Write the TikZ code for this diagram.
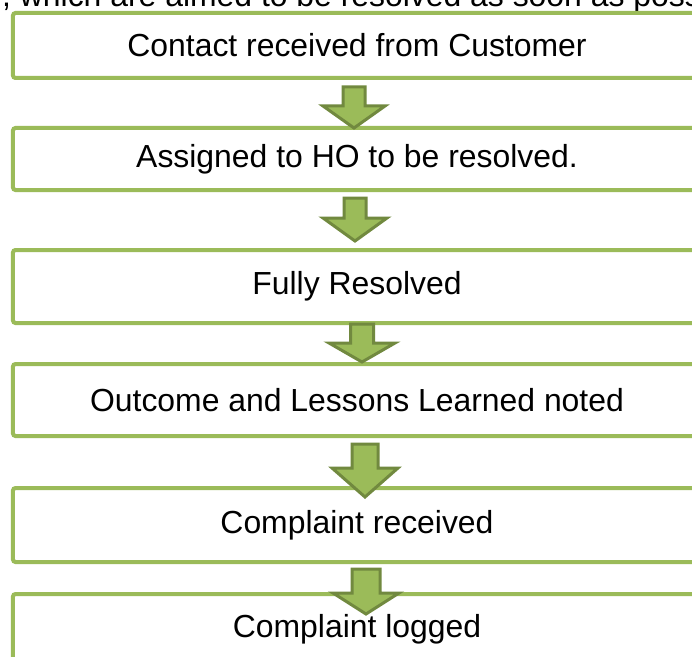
\documentclass[tikz,border=0pt]{standalone}
\usepackage{fontspec}
\setmainfont{Liberation Sans}
\definecolor{boxgreen}{HTML}{9BBB59}
\definecolor{arrowedge}{HTML}{71893F}
\tikzset{
  x=1bp, y=-1bp,
  flowbox/.style={draw=boxgreen, line width=4bp, rounded corners=2.5bp, fill=white,
    minimum width=688bp, inner sep=0pt, font=\fontsize{31.9bp}{38bp}\selectfont, text=black},
  pics/darrow/.style n args={4}{code={
    % #1 shaft half width, #2 head half width, #3 shaft length, #4 total length
    \path[fill=boxgreen, draw=arrowedge, line width=3bp, line join=miter]
      (-#1,0) -- (#1,0) -- (#1,#3) -- (#2,#3) -- (0,#4) -- (-#2,#3) -- (-#1,#3) -- cycle;
  }}
}
\begin{document}
\begin{tikzpicture}
\useasboundingbox (0,0) rectangle (692,657);
\clip (0,0) rectangle (692,657);
\fill[white] (0,0) rectangle (692,657);
\node[anchor=base west, inner sep=0pt, font=\fontsize{31.9bp}{38bp}\selectfont] (lead) at (2,7) {, which are aimed to be resolved as soon as poss};

\node[flowbox, minimum height=65bp] (b1) at (357,45.5) {Contact received from Customer};
\node[flowbox, minimum height=62bp] (b2) at (357,159) {Assigned to HO to be resolved.};
\node[flowbox, minimum height=73bp] (b3) at (357,286.5) {Fully Resolved};
\node[flowbox, minimum height=72bp] (b4) at (357,400) {Outcome and Lessons Learned noted};
\node[flowbox, minimum height=74bp] (b5) at (357,525) {Complaint received};
\node[flowbox, minimum height=70bp] (b6) at (357,629) {Complaint logged};

\pic at (354,87) {darrow={11}{31}{19}{41}};
\pic at (355,198) {darrow={11}{32}{20}{43}};
\pic at (362,324) {darrow={11.5}{33}{19}{38}};
\pic at (365,444) {darrow={13}{33}{24}{53}};
\pic at (366,569) {darrow={14}{33}{24}{45}};
\end{tikzpicture}
\end{document}
